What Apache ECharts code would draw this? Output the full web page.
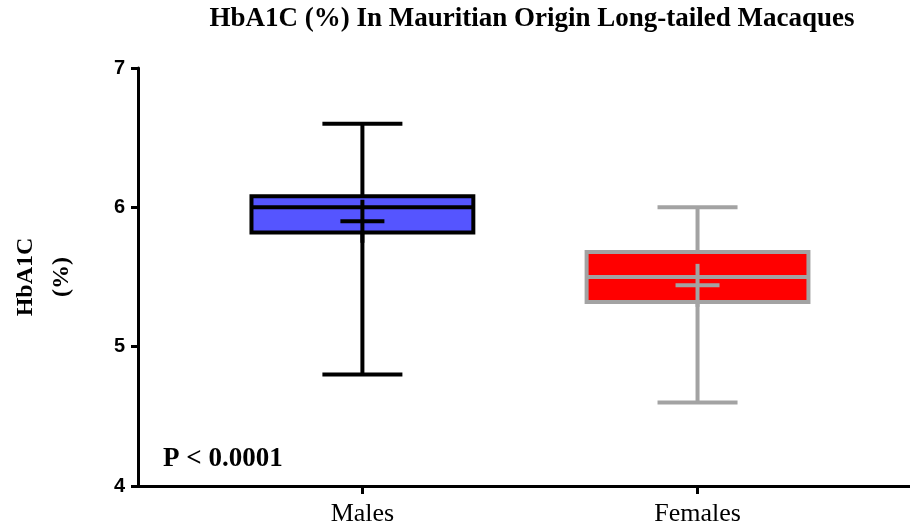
<!DOCTYPE html>
<html>
<head>
<meta charset="utf-8">
<script src="https://cdn.jsdelivr.net/npm/echarts@6/dist/echarts.min.js"></script>
<style>html,body{margin:0;padding:0;background:#fff;}#c{width:910px;height:529px;}</style>
</head>
<body>
<div id="c"></div>
<script>
// ---- data ----
var categories = ['Males', 'Females'];
var mins    = [4.8, 4.6];
var q1s     = [5.82, 5.32];
var medians = [6.0, 5.5];
var q3s     = [6.08, 5.68];
var maxs    = [6.6, 6.0];
var means   = [5.9, 5.44];
var yTicks  = [4, 5, 6, 7];
var pText   = 'P < 0.0001';

// ---- styles (not data) ----
var fills   = ['#5555FF', '#FF0000'];
var strokes = ['#000000', '#A3A3A3'];

var chart = echarts.init(document.getElementById('c'), null, {renderer: 'canvas'});

var seriesData = categories.map(function (c, i) {
  return [i, mins[i], q1s[i], medians[i], q3s[i], maxs[i], means[i]];
});

function renderBox(params, api) {
  var i = api.value(0);
  var lo = api.coord([i, api.value(1)]);
  var q1 = api.coord([i, api.value(2)]);
  var md = api.coord([i, api.value(3)]);
  var q3 = api.coord([i, api.value(4)]);
  var hi = api.coord([i, api.value(5)]);
  var mn = api.coord([i, api.value(6)]);
  var bw = api.size([0.662, 0])[0];
  var cw = 80, pw = 44, ph = 43;
  var x = lo[0];
  var st = {stroke: strokes[params.dataIndex], lineWidth: 4, fill: null};
  return {
    type: 'group',
    children: [
      {type: 'rect', shape: {x: x - bw / 2, y: q3[1], width: bw, height: q1[1] - q3[1]},
       style: {fill: fills[params.dataIndex], stroke: strokes[params.dataIndex], lineWidth: 4}},
      {type: 'line', shape: {x1: x - bw / 2, y1: md[1], x2: x + bw / 2, y2: md[1]}, style: st},
      {type: 'line', shape: {x1: x - pw / 2, y1: mn[1], x2: x + pw / 2, y2: mn[1]}, style: st},
      {type: 'line', shape: {x1: x, y1: mn[1] - ph / 2, x2: x, y2: mn[1] + ph / 2}, style: st},
      {type: 'line', shape: {x1: x, y1: q3[1], x2: x, y2: hi[1]}, style: st},
      {type: 'line', shape: {x1: x, y1: q1[1], x2: x, y2: lo[1]}, style: st},
      {type: 'line', shape: {x1: x - cw / 2, y1: hi[1], x2: x + cw / 2, y2: hi[1]}, style: st},
      {type: 'line', shape: {x1: x - cw / 2, y1: lo[1], x2: x + cw / 2, y2: lo[1]}, style: st}
    ]
  };
}

var option = {
  backgroundColor: '#ffffff',
  animation: false,
  title: {
    text: 'HbA1C (%) In Mauritian Origin Long-tailed Macaques',
    left: 527, top: 1, textAlign: 'center',
    textStyle: {fontFamily: 'Liberation Serif', fontWeight: 'bold', fontSize: 27, color: '#000'}
  },
  grid: {left: 136, right: 0, top: 68, bottom: 43, containLabel: false},
  xAxis: {
    type: 'value',
    min: -0.6696, max: 1.634,
    axisLine: {show: true, onZero: false, lineStyle: {color: '#000', width: 3}},
    axisTick: {show: true, customValues: [0, 1], length: 8, lineStyle: {color: '#000', width: 3}},
    axisLabel: {
      show: true, customValues: [0, 1], margin: 15,
      fontFamily: 'Liberation Serif', fontSize: 26, color: '#000',
      formatter: function (v) { return categories[Math.round(v)]; }
    },
    splitLine: {show: false}
  },
  yAxis: {
    type: 'value', min: yTicks[0], max: yTicks[yTicks.length - 1], interval: 1,
    name: 'HbA1C\n(%)', nameLocation: 'middle', nameRotate: 90, nameGap: 58,
    nameTextStyle: {fontFamily: 'Liberation Serif', fontWeight: 'bold', fontSize: 24, lineHeight: 36, color: '#000'},
    axisLine: {show: true, onZero: false, lineStyle: {color: '#000', width: 3}},
    axisTick: {show: true, inside: false, length: 7, lineStyle: {color: '#000', width: 3}},
    axisLabel: {margin: 13, fontFamily: 'Liberation Sans', fontWeight: 'bold', fontSize: 20, color: '#000'},
    splitLine: {show: false}
  },
  graphic: [{
    type: 'text', left: 163, top: 446,
    style: {text: pText, fontFamily: 'Liberation Serif', fontWeight: 'bold', fontSize: 27, fill: '#000'}
  }],
  series: [{
    type: 'custom',
    renderItem: renderBox,
    data: seriesData,
    encode: {x: 0, y: [1, 2, 3, 4, 5, 6]},
    clip: false
  }]
};
chart.setOption(option);
</script>
</body>
</html>
